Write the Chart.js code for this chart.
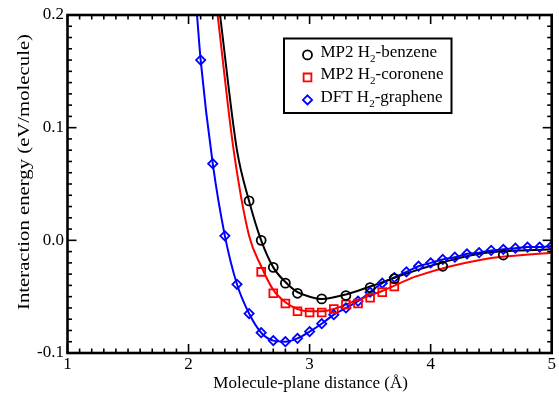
<!DOCTYPE html>
<html>
<head>
<meta charset="utf-8">
<script src="https://cdn.jsdelivr.net/npm/chart.js@4.4.0/dist/chart.umd.min.js"></script>
<style>
  html, body { margin: 0; padding: 0; background: #fff; }
  canvas { display: block; }
</style>
</head>
<body>
<canvas id="energyChart" width="559" height="399"></canvas>
<script>
// MP2 H2-benzene points (circles)
const benzeneX = [2.5, 2.6, 2.7, 2.8, 2.9, 3.1, 3.3, 3.5, 3.7, 4.1, 4.6];
const benzeneY = [0.035, 0.000, -0.024, -0.038, -0.047, -0.052, -0.049, -0.042, -0.034, -0.023, -0.013];

// MP2 H2-coronene points (squares)
const coroneneX = [2.6, 2.7, 2.8, 2.9, 3.0, 3.1, 3.2, 3.3, 3.4, 3.5, 3.6, 3.7];
const coroneneY = [-0.028, -0.047, -0.056, -0.063, -0.064, -0.064, -0.061, -0.057, -0.056, -0.051, -0.046, -0.041];

// DFT H2-graphene points (diamonds)
const grapheneX = [2.1, 2.2, 2.3, 2.4, 2.5, 2.6, 2.7, 2.8, 2.9, 3.0,
                   3.1, 3.2, 3.3, 3.4, 3.5, 3.6, 3.7, 3.8, 3.9, 4.0,
                   4.1, 4.2, 4.3, 4.4, 4.5, 4.6, 4.7, 4.8, 4.9, 5.0];
const grapheneY = [0.160, 0.068, 0.004, -0.039, -0.065, -0.082, -0.089, -0.090, -0.087, -0.081,
                   -0.074, -0.066, -0.060, -0.054, -0.046, -0.038, -0.033, -0.028, -0.023, -0.020,
                   -0.017, -0.015, -0.012, -0.011, -0.009, -0.008, -0.007, -0.006, -0.006, -0.005];

// fitted curves
const benzeneFitX = [2.26, 2.4, 2.5, 2.6, 2.7, 2.8, 2.9, 3.0, 3.1, 3.3, 3.5, 3.9, 4.4, 5.0];
const benzeneFitY = [0.2, 0.080, 0.035, 0.000, -0.024, -0.037, -0.046, -0.050, -0.052, -0.048, -0.041, -0.026, -0.012, -0.008];
const coroneneFitX = [2.24, 2.37, 2.5, 2.6, 2.7, 2.8, 2.9, 3.0, 3.1, 3.2, 3.37, 3.6, 3.88, 4.43, 5.0];
const coroneneFitY = [0.2, 0.082, 0.004, -0.023, -0.044, -0.055, -0.061, -0.063, -0.063, -0.061, -0.054, -0.045, -0.032, -0.017, -0.011];
const grapheneFitX = [2.07].concat(grapheneX);
const grapheneFitY = [0.2].concat(grapheneY);

// Axis labels
const xTitle = 'Molecule-plane distance (Å)';
const yTitle = 'Interaction energy (eV/molecule)';

// Legend rows: text before the subscript, subscript, text after
const legendRows = [
  { head: 'MP2 H', sub: '2', tail: '-benzene', shape: 'circle', color: '#000000' },
  { head: 'MP2 H', sub: '2', tail: '-coronene', shape: 'square', color: '#ff0000' },
  { head: 'DFT H', sub: '2', tail: '-graphene', shape: 'diamond', color: '#0000ff' }
];

const FONT = '"Liberation Serif", "Times New Roman", serif';

function pts(xs, ys) {
  return xs.map((x, i) => ({ x: x, y: ys[i] }));
}

function fitLine(data, color) {
  return {
    type: 'line',
    data: data,
    borderColor: color,
    borderWidth: 2,
    pointRadius: 0,
    cubicInterpolationMode: 'monotone',
    fill: false,
    order: 2
  };
}

function markers(data, color, style, radius) {
  return {
    type: 'line',
    data: data,
    showLine: false,
    pointStyle: style,
    pointRadius: radius,
    pointBorderWidth: 1.8,
    pointBorderColor: color,
    pointBackgroundColor: 'rgba(0,0,0,0)',
    order: 1
  };
}

// draw one legend marker by hand
function drawMarker(ctx, shape, color, x, y) {
  ctx.save();
  ctx.strokeStyle = color;
  ctx.lineWidth = 1.8;
  ctx.beginPath();
  if (shape === 'circle') {
    ctx.arc(x, y, 4.5, 0, Math.PI * 2);
  } else if (shape === 'square') {
    ctx.rect(x - 3.9, y - 3.9, 7.8, 7.8);
  } else {
    ctx.moveTo(x, y - 4.6);
    ctx.lineTo(x + 4.6, y);
    ctx.lineTo(x, y + 4.6);
    ctx.lineTo(x - 4.6, y);
    ctx.closePath();
  }
  ctx.stroke();
  ctx.restore();
}

// Frame, inward ticks, tick labels, axis titles and legend
const decorations = {
  id: 'decorations',
  afterDatasetsDraw(chart) {
    const ctx = chart.ctx;
    const a = chart.chartArea;
    const xs = chart.scales.x;
    const ys = chart.scales.y;
    ctx.save();
    ctx.strokeStyle = '#000';
    ctx.fillStyle = '#000';

    function seg(x1, y1, x2, y2) {
      ctx.beginPath();
      ctx.moveTo(x1, y1);
      ctx.lineTo(x2, y2);
      ctx.stroke();
    }

    // ticks on all four sides, pointing in
    ctx.lineWidth = 1.6;
    for (let i = 10; i <= 50; i++) {
      const px = xs.getPixelForValue(i / 10);
      const len = i % 10 === 0 ? 9 : 4.5;
      seg(px, a.bottom, px, a.bottom - len);
      seg(px, a.top, px, a.top + len);
    }
    for (let i = -10; i <= 20; i++) {
      const py = ys.getPixelForValue(i / 100);
      const len = i % 10 === 0 ? 9 : 4.5;
      seg(a.left, py, a.left + len, py);
      seg(a.right, py, a.right - len, py);
    }

    // frame
    ctx.lineWidth = 2.6;
    ctx.strokeRect(a.left, a.top, a.right - a.left, a.bottom - a.top);

    // tick labels
    ctx.font = '17px ' + FONT;
    ctx.textAlign = 'center';
    ctx.textBaseline = 'alphabetic';
    xs.ticks.forEach(t => {
      ctx.fillText(String(Math.round(t.value)), xs.getPixelForValue(t.value), 369);
    });
    ctx.textAlign = 'right';
    ctx.textBaseline = 'middle';
    ys.ticks.forEach(t => {
      let v = Math.abs(t.value) < 1e-9 ? 0 : t.value;
      ctx.fillText(v.toFixed(1), a.left - 3.5, ys.getPixelForValue(t.value));
    });

    // axis titles
    ctx.textAlign = 'center';
    ctx.textBaseline = 'alphabetic';
    ctx.fillText(xTitle, (a.left + a.right) / 2 + 1, 388);
    ctx.save();
    ctx.translate(29, 172);
    ctx.rotate(-Math.PI / 2);
    ctx.scale(1.22, 1);
    ctx.fillText(yTitle, 0, 0);
    ctx.restore();

    // legend box
    ctx.fillStyle = '#fff';
    ctx.fillRect(284, 38.5, 167.5, 74.5);
    ctx.lineWidth = 2;
    ctx.strokeRect(284, 38.5, 167.5, 74.5);
    ctx.fillStyle = '#000';
    ctx.textAlign = 'left';
    legendRows.forEach((row, i) => {
      const base = 56.7 + i * 22.5;
      drawMarker(ctx, row.shape, row.color, 307.5, base - 1.8);
      let tx = 320.5;
      ctx.font = '17px ' + FONT;
      ctx.fillText(row.head, tx, base);
      tx += ctx.measureText(row.head).width;
      ctx.font = '11px ' + FONT;
      ctx.fillText(row.sub, tx, base + 5);
      tx += ctx.measureText(row.sub).width;
      ctx.font = '17px ' + FONT;
      ctx.fillText(row.tail, tx, base);
    });
    ctx.restore();
  }
};

const chart = new Chart(document.getElementById('energyChart').getContext('2d'), {
  type: 'line',
  data: {
    datasets: [
      markers(pts(benzeneX, benzeneY), '#000000', 'circle', 4.5),
      markers(pts(coroneneX, coroneneY), '#ff0000', 'rect', 5.5),
      markers(pts(grapheneX, grapheneY), '#0000ff', 'rectRot', 4.6),
      fitLine(pts(benzeneFitX, benzeneFitY), '#000000'),
      fitLine(pts(coroneneFitX, coroneneFitY), '#ff0000'),
      fitLine(pts(grapheneFitX, grapheneFitY), '#0000ff')
    ]
  },
  options: {
    responsive: false,
    animation: false,
    layout: { padding: { top: 15, right: 7, left: 0, bottom: 0 } },
    plugins: {
      legend: { display: false },
      tooltip: { enabled: false }
    },
    scales: {
      x: {
        type: 'linear',
        min: 1,
        max: 5,
        ticks: { display: false, stepSize: 1 },
        grid: { display: false },
        border: { display: false },
        afterFit(s) { s.height = 46; }
      },
      y: {
        type: 'linear',
        min: -0.1,
        max: 0.2,
        ticks: { display: false, stepSize: 0.1 },
        grid: { display: false },
        border: { display: false },
        afterFit(s) { s.width = 67.5; }
      }
    }
  },
  plugins: [decorations]
});
</script>
</body>
</html>
